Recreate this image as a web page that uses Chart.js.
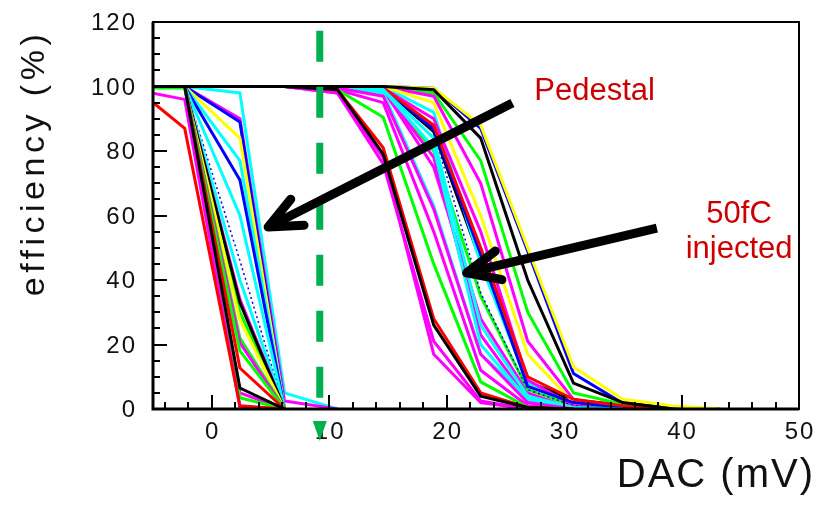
<!DOCTYPE html>
<html lang="en">
<head>
<meta charset="UTF-8">
<title>Efficiency vs DAC threshold</title>
<script src="https://cdn.jsdelivr.net/npm/chart.js"></script>
<style>
  html, body { margin: 0; padding: 0; background: #ffffff; }
</style>
</head>
<body>
<canvas id="effChart" width="817" height="505"></canvas>
<script>
// DAC scan points (mV), shared by every channel
const dacPoints = [-6.5, -2.3, 2.4, 6.2, 10.7, 14.6, 18.9, 22.9, 26.9, 30.8, 35.0, 39.2, 43.3];
const xTickValues = [0, 10, 20, 30, 40, 50];
const yTickValues = [0, 20, 40, 60, 80, 100, 120];

// pedestal scans (efficiency %, one row per channel)
const pedestalColors = ['black', 'red', 'magenta', 'green', 'magenta', 'red', 'green', 'magenta', 'green', 'yellow',
  'black', 'magenta', 'green', 'cyan', 'blueDot', 'cyan', 'blue', 'cyan', 'yellow', 'blue', 'magenta', 'cyan'];
const pedestalValues = [
  [100, 100, 6.5, 0],
  [99.5, 87, 1, 0],
  [99, 96, 0.5, 0],
  [99.5, 99.5, 3.5, 0],
  [100, 100, 5, 0],
  [100, 100, 12.7, 0],
  [100, 100, 18, 0],
  [100, 100, 20.5, 0],
  [100, 100, 22, 0],
  [100, 100, 27.6, 0],
  [100, 100, 33, 0],
  [100, 100, 34, 0],
  [100, 100, 30, 0],
  [100, 100, 40, 0],
  [100, 100, 46, 0],
  [100, 100, 60, 0],
  [100, 100, 71, 0],
  [100, 100, 77, 0],
  [100, 100, 84, 0],
  [100, 100, 89, 0],
  [100, 100, 90, 2.5, 0],
  [100, 100, 98, 5, 0]
];

// 50fC injected scans (efficiency %, one row per channel)
const injectedColors = ['black', 'black', 'magenta', 'red', 'magenta', 'green', 'magenta', 'magenta', 'cyan', 'cyan',
  'cyan', 'magenta', 'blueDot', 'red', 'blue', 'magenta', 'yellow', 'magenta', 'green', 'yellow', 'blue', 'green',
  'magenta', 'cyan', 'black'];
const injectedValues = [
  [100, 100, 100, 100, 100, 100, 99, 84, 40, 8, 2, 0],
  [100, 100, 100, 100, 99, 79, 26, 4, 0.5, 0],
  [100, 100, 100, 100, 98, 78, 17, 2, 0],
  [100, 100, 100, 100, 99, 81, 28, 5, 0.5, 0],
  [100, 100, 100, 100, 98, 76, 21, 2.5, 0],
  [100, 100, 100, 100, 99, 90.5, 45, 8.4, 0.5, 0],
  [100, 100, 100, 100, 99, 95, 55, 12, 1, 0],
  [100, 100, 100, 100, 99.5, 97, 62, 17, 2, 0],
  [100, 100, 100, 100, 100, 98, 63, 17, 3.7, 0],
  [100, 100, 100, 100, 100, 99, 81, 20, 3, 0],
  [100, 100, 100, 100, 100, 99, 84, 26, 4, 0.5, 0],
  [100, 100, 100, 100, 100, 99, 78, 23, 3, 0],
  [100, 100, 100, 100, 100, 99, 86, 36, 6, 1, 0],
  [100, 100, 100, 100, 100, 99.5, 88, 50, 10, 3, 1, 0],
  [100, 100, 100, 100, 100, 99.5, 87, 48, 7, 2, 0.5, 0],
  [100, 100, 100, 100, 100, 99.5, 90, 55, 9, 1, 0],
  [100, 100, 100, 100, 100, 100, 95, 60, 17, 2, 0],
  [100, 100, 100, 100, 100, 100, 97, 70, 21, 3, 0],
  [100, 100, 100, 100, 100, 100, 98, 77, 30, 5, 1.5, 0],
  [100, 100, 100, 100, 100, 100, 99.5, 88, 50, 13, 3, 1, 0],
  [100, 100, 100, 100, 100, 100, 99.5, 87, 49, 11, 1.8, 0.5, 0],
  [100, 100, 100, 100, 100, 99, 80, 35, 6, 1, 0],
  [100, 100, 100, 100, 100, 99, 75, 28, 5, 0],
  [100, 100, 100, 100, 100, 100, 92, 45, 8, 1, 0],
  [100, 100, 100, 100, 100, 99.5, 86, 46, 8.4, 2.8, 1.2, 0]
];

// annotations, in data units
const thresholdDac = 9.2;
const pedestalArrow = { from: [25.6, 94.9], to: [4.8, 56.4] };
const injectedArrow = { from: [37.9, 56.1], to: [21.7, 42.2] };
const pedestalLabel = { text: ['Pedestal'], at: [32.6, 95.8] };
const injectedLabel = { text: ['50fC', 'injected'], at: [44.9, 57.7] };

const palette = {
  black: '#000000', red: '#ff0000', green: '#00ff00', blue: '#0000ff',
  yellow: '#ffff00', magenta: '#ff00ff', cyan: '#00ffff', blueDot: '#0000ff'
};
const FONT = '"Liberation Sans", Arial, sans-serif';

function makeDataset(values, colorName) {
  const thin = colorName === 'blueDot';
  return {
    data: values.map((v, i) => ({ x: dacPoints[i], y: v })),
    borderColor: palette[colorName],
    borderWidth: thin ? 1.5 : 3,
    borderDash: thin ? [2, 3] : [],
    pointRadius: 0,
    tension: 0,
    clip: 0
  };
}

const datasets = [];
injectedValues.forEach((v, i) => datasets.push(makeDataset(v, injectedColors[i])));
pedestalValues.forEach((v, i) => datasets.push(makeDataset(v, pedestalColors[i])));

function drawArrow(ctx, x1, y1, x2, y2) {
  const ang = Math.atan2(y1 - y2, x1 - x2);
  const len = 36, spread = 0.42;
  ctx.save();
  ctx.strokeStyle = '#000';
  ctx.lineWidth = 9;
  ctx.lineCap = 'butt';
  ctx.beginPath();
  ctx.moveTo(x1, y1);
  ctx.lineTo(x2 + Math.cos(ang) * 4, y2 + Math.sin(ang) * 4);
  ctx.stroke();
  ctx.lineCap = 'round';
  ctx.lineJoin = 'round';
  ctx.beginPath();
  ctx.moveTo(x2 + Math.cos(ang - spread) * len, y2 + Math.sin(ang - spread) * len);
  ctx.lineTo(x2, y2);
  ctx.lineTo(x2 + Math.cos(ang + spread) * len, y2 + Math.sin(ang + spread) * len);
  ctx.stroke();
  ctx.restore();
}

const framePlugin = {
  id: 'rootFrame',
  afterDraw(chart) {
    const { ctx, chartArea: a, scales: { x, y } } = chart;
    ctx.save();
    // inward ticks
    ctx.strokeStyle = '#000';
    ctx.lineWidth = 2;
    ctx.beginPath();
    for (let v = 0; v <= 120; v += 5) {
      const py = Math.round(y.getPixelForValue(v));
      ctx.moveTo(a.left, py);
      ctx.lineTo(a.left + (v % 20 === 0 ? 14 : 7), py);
    }
    for (let v = -4; v <= 50; v += 2) {
      const px = Math.round(x.getPixelForValue(v));
      ctx.moveTo(px, a.bottom);
      ctx.lineTo(px, a.bottom - (v % 10 === 0 ? 14 : 7));
    }
    ctx.stroke();
    // frame
    ctx.lineWidth = 2;
    ctx.strokeRect(a.left, a.top, a.right - a.left, a.bottom - a.top);
    ctx.lineWidth = 3;
    ctx.beginPath();
    ctx.moveTo(a.left, a.top);
    ctx.lineTo(a.left, a.bottom);
    ctx.lineTo(a.right, a.bottom);
    ctx.stroke();

    // tick labels
    ctx.fillStyle = '#111';
    ctx.font = '24px ' + FONT;
    ctx.letterSpacing = '2px';
    ctx.textBaseline = 'alphabetic';
    ctx.textAlign = 'right';
    yTickValues.forEach(v => ctx.fillText(String(v), a.left - 16, y.getPixelForValue(v) + 8));
    ctx.textAlign = 'center';
    xTickValues.forEach(v => ctx.fillText(String(v), x.getPixelForValue(v) + 1, a.bottom + 30));
    ctx.letterSpacing = '0px';

    // threshold marker
    const gx = x.getPixelForValue(thresholdDac);
    ctx.strokeStyle = '#00b050';
    ctx.fillStyle = '#00b050';
    ctx.lineWidth = 7;
    ctx.setLineDash([31, 25]);
    ctx.beginPath();
    ctx.moveTo(gx, y.getPixelForValue(117.3));
    ctx.lineTo(gx, y.getPixelForValue(3.4));
    ctx.stroke();
    ctx.setLineDash([]);
    ctx.beginPath();
    ctx.moveTo(gx - 7, a.bottom + 12);
    ctx.lineTo(gx + 7, a.bottom + 12);
    ctx.lineTo(gx, a.bottom + 32);
    ctx.closePath();
    ctx.fill();

    // arrows
    [pedestalArrow, injectedArrow].forEach(ar => {
      drawArrow(ctx, x.getPixelForValue(ar.from[0]), y.getPixelForValue(ar.from[1]),
        x.getPixelForValue(ar.to[0]), y.getPixelForValue(ar.to[1]));
    });

    // labels
    ctx.fillStyle = '#cc0000';
    ctx.font = '31px ' + FONT;
    ctx.textAlign = 'center';
    [pedestalLabel, injectedLabel].forEach(lb => {
      const px = x.getPixelForValue(lb.at[0]);
      const py = y.getPixelForValue(lb.at[1]);
      lb.text.forEach((t, i) => ctx.fillText(t, px, py + i * 35));
    });

    // axis titles
    ctx.fillStyle = '#111';
    ctx.font = '34px ' + FONT;
    ctx.letterSpacing = '4.5px';
    ctx.save();
    ctx.translate(44, 163);
    ctx.rotate(-Math.PI / 2);
    ctx.textAlign = 'center';
    ctx.fillText('efficiency (%)', 0, 0);
    ctx.restore();
    ctx.font = '40px ' + FONT;
    ctx.letterSpacing = '2px';
    ctx.textAlign = 'right';
    ctx.fillText('DAC (mV)', 815, 487);
    ctx.restore();
  }
};

const ctx = document.getElementById('effChart').getContext('2d');
new Chart(ctx, {
  type: 'line',
  data: { datasets: datasets },
  options: {
    responsive: false,
    animation: false,
    events: [],
    layout: { padding: { left: 0, top: 22, right: 18, bottom: 0 } },
    plugins: { legend: { display: false }, tooltip: { enabled: false } },
    scales: {
      x: {
        type: 'linear',
        min: -5,
        max: 50,
        afterBuildTicks: s => { s.ticks = xTickValues.map(v => ({ value: v })); },
        afterFit: s => { s.height = 96; },
        grid: { display: false, drawTicks: false },
        border: { display: false },
        ticks: { display: false }
      },
      y: {
        type: 'linear',
        min: 0,
        max: 120,
        afterBuildTicks: s => { s.ticks = yTickValues.map(v => ({ value: v })); },
        afterFit: s => { s.width = 153; },
        grid: { display: false, drawTicks: false },
        border: { display: false },
        ticks: { display: false }
      }
    }
  },
  plugins: [framePlugin]
});
</script>
</body>
</html>
